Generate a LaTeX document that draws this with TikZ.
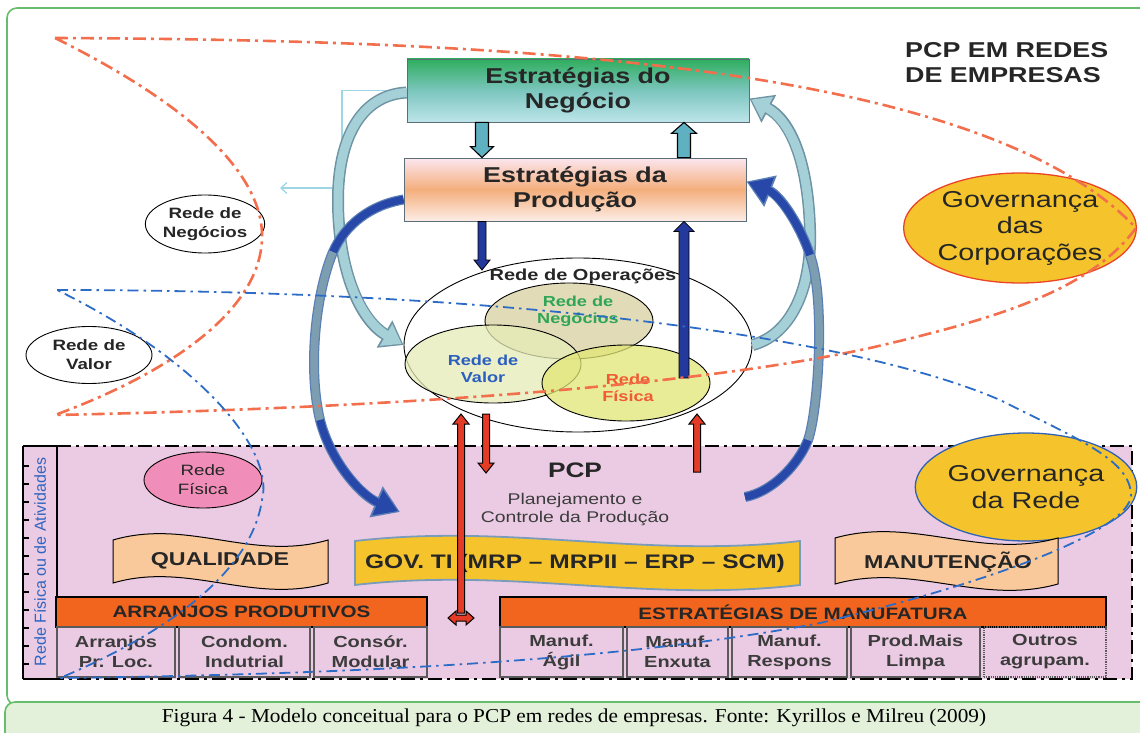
\documentclass[tikz,border=0pt]{standalone}
\usepackage{fontspec}
\setmainfont{Liberation Sans}[FakeStretch=1.25]
\newfontfamily\plainsans{Liberation Sans}
\newfontfamily\capfont{Liberation Serif}[FakeStretch=1.08]
\usetikzlibrary{calc,shapes.geometric,arrows.meta}

\definecolor{framegreen}{HTML}{66BE6A}
\definecolor{capfill}{HTML}{E3F0DA}
\definecolor{textdark}{HTML}{262626}
\definecolor{pcppink}{HTML}{EBCBE3}
\definecolor{negtop}{HTML}{2FAE5E}
\definecolor{negmid}{HTML}{7CC6BE}
\definecolor{negbot}{HTML}{BDE5EA}
\definecolor{prodtop}{HTML}{FCE6EF}
\definecolor{prodmid}{HTML}{F4AE7C}
\definecolor{prodbot}{HTML}{FCEDE6}
\definecolor{boxgray}{HTML}{5E6E78}
\definecolor{tealfill}{HTML}{A5D0D8}
\definecolor{tealedge}{HTML}{6E93A3}
\definecolor{tealblock}{HTML}{5FB0C0}
\definecolor{navy}{HTML}{24399C}
\definecolor{bluedark}{HTML}{2747A9}
\definecolor{bluegray}{HTML}{7D9DB1}
\definecolor{blueedge}{HTML}{5B7FB5}
\definecolor{redblock}{HTML}{E33B25}
\definecolor{curvered}{HTML}{F26E4C}
\definecolor{curveblue}{HTML}{2C6CC6}
\definecolor{gold}{HTML}{F5C42C}
\definecolor{govred}{HTML}{EA4428}
\definecolor{govblue}{HTML}{2F62B6}
\definecolor{peach}{HTML}{F9C99B}
\definecolor{tiedge}{HTML}{7A9CBC}
\definecolor{barorange}{HTML}{F1651F}
\definecolor{cellgray}{HTML}{5A5A5A}
\definecolor{pinkell}{HTML}{F08DB8}
\definecolor{lightline}{HTML}{9ED6E6}
\definecolor{stripblue}{HTML}{2F64C0}
\definecolor{rnfill}{HTML}{D9D0A0}
\definecolor{rvfill}{HTML}{E5ECB6}
\definecolor{rffill}{HTML}{E2E674}
\definecolor{rngreen}{HTML}{2EA656}
\definecolor{rvblue}{HTML}{2A5EC0}
\definecolor{rfred}{HTML}{F05A34}
\definecolor{subgray}{HTML}{3C3C3C}

% straight block arrow: tail, head, shaft half width, head half width, head length, style
\newcommand\blockarrow[6]{%
  \path[#6] let \p1=(#1), \p2=(#2), \p3=($(#2)!#5!(#1)$) in
    (\x1-#3,\y1) -- (\x1-#3,\y3) -- (\x1-#4,\y3) -- (\x2,\y2)
    -- (\x1+#4,\y3) -- (\x1+#3,\y3) -- (\x1+#3,\y1) -- cycle;}

% wavy banner: x0, top y, x1, bottom y, wave control offset, style
\newcommand\wavebanner[6]{%
  \path[#6] (#1,#2) .. controls ({#1+0.35*(#3-#1)},{#2-#5}) and ({#1+0.65*(#3-#1)},{#2+#5}) .. (#3,#2)
    -- (#3,#4) .. controls ({#1+0.65*(#3-#1)},{#4+#5}) and ({#1+0.35*(#3-#1)},{#4-#5}) .. (#1,#4) -- cycle;}

% thick curved arrow drawn as outline pass and core pass
\newcommand\curvearrow[3]{\draw[#1] #3; \draw[#2] #3;}

\begin{document}
\begin{tikzpicture}[x=1pt,y=-1pt,
  txt/.style={text=textdark, align=center, inner sep=0pt},
  stratbox/.style={draw=boxgray, line width=0.8pt, minimum width=342pt, minimum height=63pt, txt,
    font=\bfseries\fontsize{21.5}{25}\selectfont},
  gov/.style={ellipse, fill=gold, line width=1.3pt, inner sep=0pt, txt, font=\fontsize{23}{26.5}\selectfont},
  sidelabel/.style={ellipse, draw=black, fill=white, line width=0.9pt, inner sep=0pt, txt,
    font=\bfseries\fontsize{15}{19}\selectfont},
  venn/.style={ellipse, draw=black, line width=0.9pt, fill opacity=0.75, inner sep=0pt},
  vennlabel/.style={align=center, inner sep=0pt, font=\bfseries\fontsize{14.5}{17}\selectfont},
  bannertext/.style={txt, font=\bfseries\fontsize{18.6}{22}\selectfont},
  barbox/.style={draw=black, fill=barorange, line width=1.5pt, inner sep=0pt, txt,
    font=\bfseries\fontsize{16.5}{20}\selectfont},
  cellbox/.style={draw=cellgray, line width=1.2pt, minimum height=50pt, inner sep=0pt, txt, text=subgray,
    font=\bfseries\fontsize{16}{20}\selectfont},
  tealblk/.style={fill=tealblock, draw=black, line width=1.1pt},
  navyblk/.style={fill=navy, draw=black, line width=0.8pt},
  redblk/.style={fill=redblock, draw=black, line width=1pt},
  tealE/.style={draw=tealedge, line width=12pt, -{Triangle[length=22pt,width=30pt]}},
  tealC/.style={draw=tealfill, line width=9pt, shorten >=2.2pt, -{Triangle[length=18pt,width=24pt]}},
  blueE/.style={draw=blueedge, line width=10pt, -{Triangle[length=26pt,width=32pt]}},
  blueC/.style={line width=7.5pt},
  bluetip/.style={shorten >=2.2pt, -{Triangle[length=22pt,width=26pt]}},
  reddash/.style={draw=curvered, line width=2.6pt, dash pattern=on 13pt off 5pt on 3pt off 5pt},
  bluedash/.style={draw=curveblue, line width=1.8pt, dash pattern=on 11pt off 5pt on 2.5pt off 5pt},
  blackdash/.style={draw=black, line width=1.8pt, dash pattern=on 14pt off 5pt on 3pt off 5pt}
]
\useasboundingbox (0,0) rectangle (1140,733);

% outer frame and caption panel
\draw[framegreen, line width=1.6pt, rounded corners=10pt] (7,8) rectangle (1160,705);
\draw[framegreen, fill=capfill, line width=1.6pt, rounded corners=10pt] (5,702) rectangle (1160,760);
\node[font=\capfont\fontsize{19.7}{21}\selectfont, text=black, inner sep=0pt] (caption) at (574,718)
  {Figura 4 - Modelo conceitual para o PCP em redes de empresas. Fonte: Kyrillos e Milreu (2009)};

% PCP region with its side strip
\fill[pcppink] (22,446) rectangle (1132,679);
\draw[blackdash] (57,446) -- (1132,446) -- (1132,679) -- (57,679);
\draw[line width=2.5pt] (23,446) -- (23,679);
\draw[line width=2pt] (57,446) -- (57,679);
\draw[line width=1.5pt] (23,446) -- (57,446) (23,679) -- (57,679);
\foreach \t in {466,484,...,664} {\draw[line width=1.2pt] (23,\t) -- (29,\t);}
\node[rotate=90, text=stripblue, inner sep=0pt, font=\plainsans\fontsize{16}{18}\selectfont] (striplabel) at (40,562)
  {Rede Física ou de Atividades};

% side labels
\node[sidelabel, minimum width=116pt, minimum height=58pt] (lrn) at (205,224) {Rede de\\Negócios};
\node[sidelabel, minimum width=126pt, minimum height=57pt] (lrv) at (89,355) {Rede de\\Valor};
\node[ellipse, draw=black, fill=pinkell, line width=0.9pt, minimum width=118pt, minimum height=56pt, inner sep=0pt,
  txt, font=\fontsize{15}{19}\selectfont] (lrf) at (203,480) {Rede\\Física};

% governance ellipses
\node[gov, draw=govred, minimum width=224pt, minimum height=110pt] (govcorp) at (1020,228) {Governança\\das\\Corporações};
\node[gov, draw=govblue, minimum width=208pt, minimum height=108pt] (govrede) at (1026,487) {Governança\\da Rede};

% title
\node[anchor=west, txt, align=left, font=\bfseries\fontsize{21.5}{25}\selectfont] (title) at (905,63)
  {PCP EM REDES\\DE EMPRESAS};

% banners
\wavebanner{113}{540}{328}{583}{22}{fill=peach, draw=black, line width=1pt}
\node[bannertext] (qual) at (220,561) {QUALIDADE};
\wavebanner{355}{541}{800}{585}{18}{fill=gold, draw=tiedge, line width=1.8pt}
\node[bannertext, font=\bfseries\fontsize{19.6}{22}\selectfont] (govti) at (575,563) {GOV. TI (MRP – MRPII – ERP – SCM)};
\wavebanner{835}{538}{1058}{584}{22}{fill=peach, draw=black, line width=1pt}
\node[bannertext] (manut) at (948,562) {MANUTENÇÃO};

% PCP labels
\node[txt, font=\bfseries\fontsize{21}{25}\selectfont] (pcp) at (575,470) {PCP};
\node[txt, text=subgray, font=\fontsize{15.5}{18}\selectfont] (pcpsub) at (575,510) {Planejamento e\\Controle da Produção};

% bars and cells
\node[barbox, minimum width=371pt, minimum height=30pt] (arr) at (241.5,612) {ARRANJOS PRODUTIVOS};
\node[cellbox, minimum width=118pt] (a1) at (116,652) {Arranjos\\Pr. Loc.};
\node[cellbox, minimum width=131pt] (a2) at (244.5,652) {Condom.\\Indutrial};
\node[cellbox, minimum width=113pt] (a3) at (370.5,652) {Consór.\\Modular};
\node[barbox, minimum width=606pt, minimum height=30pt] (est) at (803,612) {ESTRATÉGIAS DE MANUFATURA};
\node[cellbox, minimum width=123pt] (m1) at (561.5,652) {Manuf.\\Ágil};
\node[cellbox, minimum width=101pt] (m2) at (677.5,652) {Manuf.\\Enxuta};
\node[cellbox, minimum width=115pt] (m3) at (789.5,652) {Manuf.\\Respons};
\node[cellbox, minimum width=129pt] (m4) at (915.5,652) {Prod.Mais\\Limpa};
\node[cellbox, minimum width=122pt, densely dotted] (m5) at (1045,652) {Outros\\agrupam.};

% strategy boxes
\node[stratbox, top color=negtop, bottom color=negbot, middle color=negmid] (neg) at (578,90.5) {Estratégias do\\Negócio};
\node[stratbox, top color=prodtop, bottom color=prodbot, middle color=prodmid] (prod) at (575,189.5) {Estratégias da\\Produção};

% thin link from the business box
\coordinate (lbk) at (342,188);
\coordinate (nbarrow) at (280,188);
\draw[lightline, line width=1.3pt, -{Straight Barb[length=6pt,width=11pt]}] (neg.west) -| (lbk) -- (nbarrow);

% network of operations
\node[ellipse, draw=black, fill=white, line width=0.9pt, minimum width=348pt, minimum height=174pt, inner sep=0pt] (ops) at (578,345) {};
\node[venn, fill=rnfill, minimum width=168pt, minimum height=76pt] (rn) at (569,321) {};
\node[venn, fill=rvfill, minimum width=176pt, minimum height=78pt] (rv) at (493,364) {};
\node[venn, fill=rffill, minimum width=168pt, minimum height=76pt] (rf) at (626,383) {};
\node[txt, font=\bfseries\fontsize{16}{18}\selectfont] (opslabel) at (583,276) {Rede de Operações};
\node[vennlabel, text=rngreen] (rnlabel) at (578,311) {Rede de\\Negócios};
\node[vennlabel, text=rvblue] (rvlabel) at (483,369) {Rede de\\Valor};
\node[vennlabel, text=rfred] (rflabel) at (628,388) {Rede\\Física};

% straight block arrows between levels
\coordinate (xL) at (482,0);
\coordinate (xR) at (684,0);
\coordinate (opsin) at (482,270);
\coordinate (rfup) at (684,378);
\blockarrow{neg.south -| xL}{prod.north -| xL}{6.5pt}{11.5pt}{11pt}{tealblk}
\blockarrow{prod.north -| xR}{neg.south -| xR}{6.5pt}{12.5pt}{11pt}{tealblk}
\blockarrow{prod.south -| xL}{opsin}{4pt}{8pt}{10pt}{navyblk}
\blockarrow{rfup}{prod.south -| xR}{5pt}{10pt}{10pt}{navyblk}

\coordinate (rAt) at (461,613);
\coordinate (rAh) at (461,414);
\coordinate (rBt) at (486,414);
\coordinate (rBh) at (486,473);
\coordinate (rCt) at (697,472);
\coordinate (rCh) at (697,414);
\blockarrow{rAt}{rAh}{3.5pt}{8pt}{10pt}{redblk}
\blockarrow{rBt}{rBh}{3.5pt}{8pt}{10pt}{redblk}
\blockarrow{rCt}{rCh}{3.5pt}{8pt}{10pt}{redblk}
\path[redblk] (448,618) -- (456,611) -- (456,615) -- (466,615) -- (466,611) -- (474,618)
  -- (466,625) -- (466,621) -- (456,621) -- (456,625) -- cycle;

% curved feedback arrows
\coordinate (pcpin) at (400,512);
\coordinate (pcpout) at (745,497);
\curvearrow{tealE}{tealC}{([yshift=-2pt]neg.west) .. controls (360,95) and (338,140) .. (338,200)
  .. controls (338,270) and (360,320) .. (ops.west)}
\curvearrow{tealE}{tealC}{(ops.east) .. controls (790,335) and (812,290) .. (810,230)
  .. controls (808,160) and (790,120) .. ([yshift=-8pt]neg.east)}

\draw[blueE] ([yshift=-10pt]prod.west) .. controls (370,205) and (345,225) .. (333,252)
  .. controls (315,295) and (308,370) .. (320,420) .. controls (330,460) and (360,495) .. (pcpin);
\draw[blueC, draw=bluedark] ([yshift=-10pt]prod.west) .. controls (370,205) and (345,225) .. (333,252);
\draw[blueC, draw=bluegray] (333,252) .. controls (315,295) and (308,370) .. (320,420);
\draw[blueC, draw=bluedark, bluetip] (320,420) .. controls (330,460) and (360,495) .. (pcpin);

\draw[blueE] (pcpout) .. controls (772,492) and (798,465) .. (808,440)
  .. controls (818,412) and (826,300) .. (810,255) .. controls (800,225) and (780,195) .. ([yshift=8pt]prod.east);
\draw[blueC, draw=bluedark] (pcpout) .. controls (772,492) and (798,465) .. (808,440);
\draw[blueC, draw=bluegray] (808,440) .. controls (818,412) and (826,300) .. (810,255);
\draw[blueC, draw=bluedark, bluetip] (810,255) .. controls (800,225) and (780,195) .. ([yshift=8pt]prod.east);

% dash-dot boundaries of the networks
\draw[reddash] (55,38) .. controls (500,40) and (980,62) .. (1136,228)
  .. controls (1090,290) and (1000,318) .. (870,348)
  .. controls (700,385) and (400,408) .. (55,415)
  .. controls (150,380) and (258,320) .. (262,240)
  .. controls (265,170) and (180,100) .. (55,38);
\draw[bluedash] (57,290) .. controls (500,290) and (850,335) .. (1000,400)
  .. controls (1080,440) and (1130,460) .. (1131,495)
  .. controls (1130,530) and (1000,580) .. (820,623)
  .. controls (600,665) and (300,675) .. (60,678)
  .. controls (150,640) and (250,580) .. (262,500)
  .. controls (275,450) and (200,360) .. (57,290);
\end{tikzpicture}
\end{document}
